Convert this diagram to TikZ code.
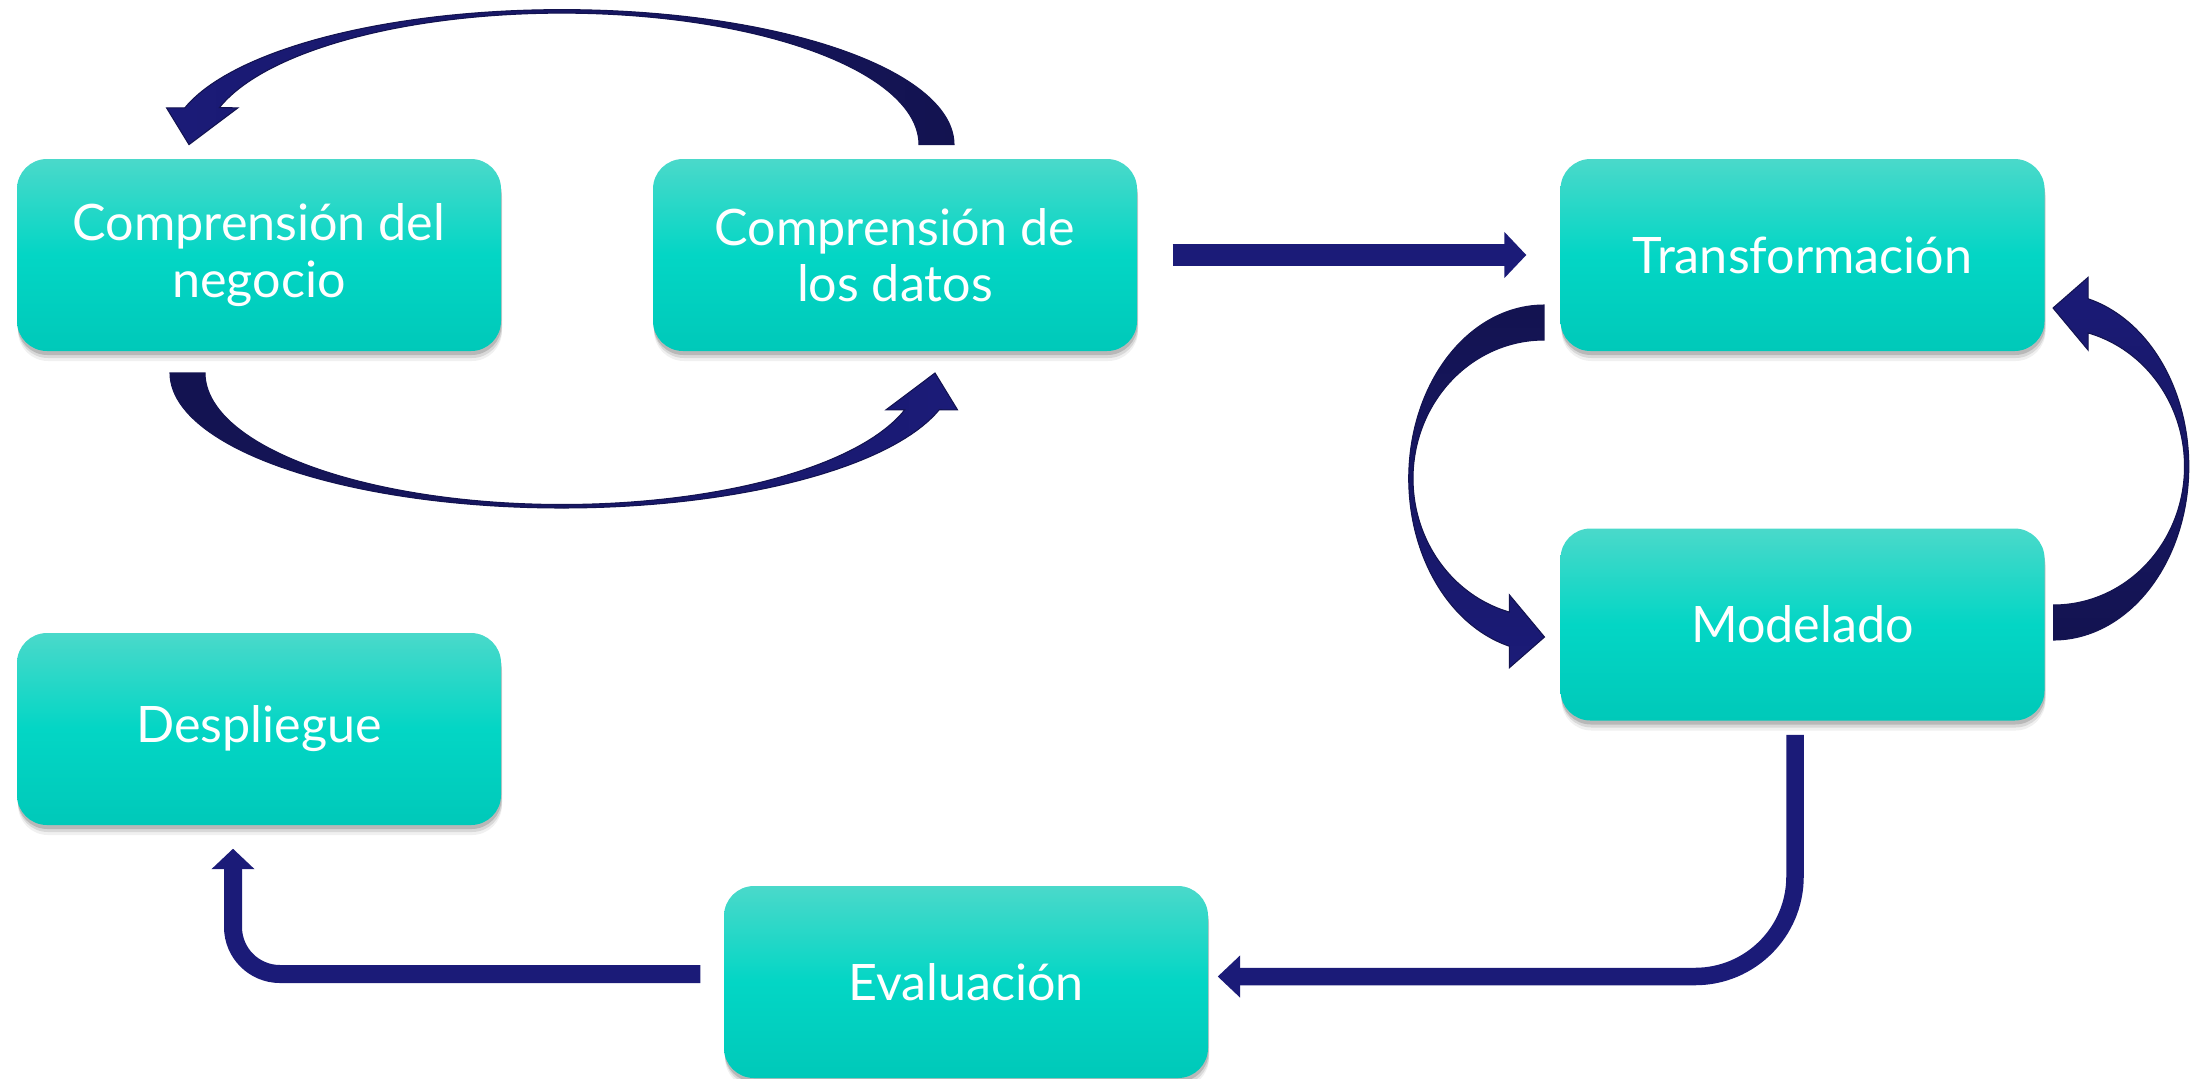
\documentclass[tikz,border=0pt]{standalone}
\usepackage{fontspec}
\setmainfont{Lato}
\usetikzlibrary{arrows.meta,shadows,calc}
\definecolor{boxtop}{HTML}{4AD9CA}
\definecolor{boxmid}{HTML}{03D6C5}
\definecolor{boxbot}{HTML}{00C9B9}
\definecolor{navy}{HTML}{1B1B78}
\definecolor{navydark}{HTML}{131350}
\tikzset{
  stage/.style={rectangle, rounded corners=3mm, minimum width=48.4mm, minimum height=19.2mm,
    inner sep=0pt, top color=boxtop, bottom color=boxbot, middle color=boxmid,
    text=white, font=\fontsize{14.3}{16.1}\selectfont, align=center,
    drop shadow={shadow xshift=0.1mm, shadow yshift=-1.0mm, opacity=0.06, fill=black},
    drop shadow={shadow xshift=0.1mm, shadow yshift=-0.7mm, opacity=0.1, fill=black},
    drop shadow={shadow xshift=0.05mm, shadow yshift=-0.4mm, opacity=0.15, fill=black}},
  crescent/.style={draw=navydark, line width=0.3pt, line join=miter},
  blockarrow/.style={draw=navy, line width=#1, line join=round},
}
\begin{document}
\begin{tikzpicture}[x=0.1mm,y=-0.1mm]
\useasboundingbox (0,0) rectangle (2201,1078);
% stages
\node[stage] (n1) at (259,255) {Comprensión del\\negocio};
\node[stage] (n2) at (895,255) {Comprensión de\\los datos};
\node[stage] (n3) at (1802.5,255) {Transformación};
\node[stage] (n4) at (1802.5,624.5) {Modelado};
\node[stage] (n5) at (259,729) {Despliegue};
\node[stage] (n6) at (966,982) {Evaluación};
% curved arrow: datos -> negocio (top)
\path[crescent, left color=navy, right color=navydark]
  plot[domain=360:195.8,samples=90] ({562+392*cos(\x)},{144.6+135*sin(\x)})
  -- (166.5,107.8) -- (189,144.6) -- (238,107.8)
  -- plot[domain=196.3:360,samples=90] ({562+357*cos(\x)},{144.6+131.5*sin(\x)}) -- cycle;
% curved arrow: negocio -> datos (bottom)
\path[crescent, left color=navydark, right color=navy]
  plot[domain=180:15.8,samples=90] ({562+392*cos(\x)},{373+135*sin(\x)})
  -- (957.5,409.8) -- (935,373) -- (886,409.8)
  -- plot[domain=16.3:180,samples=90] ({562+357*cos(\x)},{373+131.5*sin(\x)}) -- cycle;
% curved arrow: Transformacion -> Modelado (left)
\path[crescent, top color=navydark, bottom color=navy]
  plot[domain=270:104.8,samples=90] ({1544+135.3*cos(\x)},{478.5+173.5*sin(\x)})
  -- (1509.4,667.7) -- (1544.5,637) -- (1509.4,594.9)
  -- plot[domain=105.3:270,samples=90] ({1544+131*cos(\x)},{478.5+138.5*sin(\x)}) -- cycle;
% curved arrow: Modelado -> Transformacion (right)
\path[crescent, top color=navy, bottom color=navydark]
  plot[domain=90:-75.2,samples=90] ({2053.5+135.3*cos(\x)},{466.5+173.5*sin(\x)})
  -- (2088.1,277.3) -- (2053,308) -- (2088.1,350.1)
  -- plot[domain=-74.7:90,samples=90] ({2053.5+131*cos(\x)},{466.5+138.5*sin(\x)}) -- cycle;
% straight arrow: datos -> Transformacion
\draw[blockarrow=2.2mm, -{Triangle[length=2.2mm,width=4.5mm]}]
  ($(n2.east)+(35,0)$) -- ($(n3.west)+(-33.5,0)$);
% elbow arrow: Modelado -> Evaluacion
\draw[blockarrow=1.75mm, rounded corners=10mm, -{Triangle[length=2.25mm,width=4.1mm]}]
  ($(n4.south)+(-7.5,13.6)$) |- ($(n6.east)+(9,-5.5)$);
% elbow arrow: Evaluacion -> Despliegue
\draw[blockarrow=1.8mm, rounded corners=4.7mm, -{Triangle[length=2.05mm,width=4.2mm]}]
  ($(n6.west)+(-23,-8)$) -| ($(n5.south)+(-26,23)$);
\end{tikzpicture}
\end{document}
